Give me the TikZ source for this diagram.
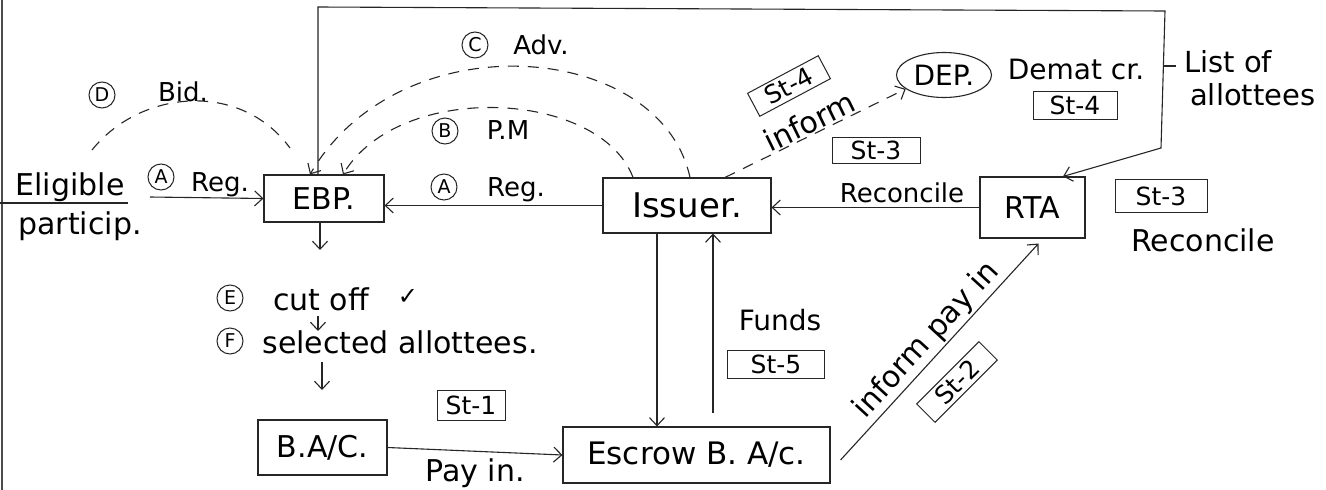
\documentclass[tikz,border=0pt]{standalone}
\usepackage{fontspec}
\setmainfont{DejaVu Sans}
\usetikzlibrary{arrows.meta,shapes.geometric,calc}
\newcommand{\fsz}[1]{\fontsize{#1}{#1}\selectfont}
\tikzset{
  ink/.style={draw=black!85, line width=1.1pt},
  arr/.style={ink, -{Straight Barb[length=8pt,width=15pt,line width=1.1pt]}},
  dsh/.style={ink, dash pattern=on 11pt off 9pt},
  darr/.style={dsh, -{Straight Barb[length=8pt,width=15pt,line width=1.1pt]}},
  box/.style={ink, rectangle, inner sep=0pt, font=\fsz{30}},
  stbox/.style={ink, line width=1pt, rectangle, font=\fsz{25}, inner xsep=4pt, inner ysep=0pt, minimum width=84, minimum height=28},
  circ/.style={circle, ink, line width=1pt, inner sep=0pt, minimum size=26pt, font=\fsz{19}},
  lbl/.style={font=\fsz{30}, inner sep=0pt},
  slbl/.style={font=\fsz{26}, inner sep=0pt},
}
\begin{document}
\begin{tikzpicture}[x=1pt,y=-1pt]
\useasboundingbox[fill=white] (0,0) rectangle (1326,490);
\draw[black!70, line width=1.5pt] (2,0) -- (2,490);

% boxes
\node[box, minimum width=120, minimum height=47] (ebp) at (324,198.5) {EBP.};
\node[box, minimum width=168, minimum height=55, font=\fsz{34}] (iss) at (687,205.5) {Issuer.};
\node[box, minimum width=105, minimum height=61] (rta) at (1032.5,207.5) {RTA};
\node[box, minimum width=129, minimum height=55] (bac) at (322.5,447.5) {B.A/C.};
\node[box, minimum width=267, minimum height=56, font=\fsz{31}] (esc) at (696.5,455) {Escrow B. A/c.};
\node[ellipse, ink, minimum width=95, minimum height=45, inner sep=0pt, font=\fsz{28}] (dep) at (944,75) {DEP.};

% labels
\node[lbl] (elig) at (70,187) {Eligible};
\node[lbl] (part) at (80,226) {particip.};
\draw[ink] (0,203) -- (128,203);
\node[circ] (ca1) at (161,177) {A};
\node[slbl] (reg1) at (220,185) {Reg.};
\node[circ] (cd) at (102,95) {D};
\node[slbl] (bid) at (183,92) {Bid.};
\node[circ] (cc) at (475,45) {C};
\node[slbl] (adv) at (541,45) {Adv.};
\node[circ] (cb) at (445,131) {B};
\node[slbl] (pm) at (508,130) {P.M};
\node[circ] (ca2) at (444,187) {A};
\node[slbl] (reg2) at (516,190) {Reg.};
\node[font=\fsz{28}, inner sep=0pt] (demat) at (1076,69) {Demat cr.};
\node[stbox] (st4b) at (1075,105) {St-4};
\node[font=\fsz{29}, inner sep=0pt, anchor=west] (list1) at (1184,62) {List of};
\node[font=\fsz{29}, inner sep=0pt, anchor=west] (list2) at (1190,95) {allottees};
\node[stbox, minimum width=88, minimum height=26] (st3a) at (876,150) {St-3};
\node[slbl] (rec1) at (902,193) {Reconcile};
\node[stbox, minimum width=92, minimum height=33] (st3b) at (1161,196) {St-3};
\node[lbl] (rec2) at (1203,240) {Reconcile};
\node[circ] (ce) at (230,298) {E};
\node[lbl] (cut) at (321,299) {cut off};
\node[font=\fsz{24}, inner sep=0pt] (chk) at (408,297) {✓};
\node[circ] (cf) at (230,341) {F};
\node[lbl] (sel) at (400,342) {selected allottees.};
\node[font=\fsz{28}, inner sep=0pt] (funds) at (780,320) {Funds};
\node[stbox, minimum width=97] (st5) at (776,364) {St-5};
\node[stbox, minimum width=68, minimum height=30] (st1) at (471,405) {St-1};
\node[lbl] (payin) at (475,473) {Pay in.};
\node[stbox, minimum width=80, minimum height=26, rotate=28] (st4a) at (789,86) {St-4};
\node[stbox, minimum width=88, minimum height=26, rotate=45] (st2) at (957,382) {St-2};

% solid connectors
\coordinate (regst) at (150,197);
\draw[arr] (regst) -- (ebp.west);
\draw[arr] (iss.west) -- (iss.west -| ebp.east);
\draw[arr] (rta.west) -- (rta.west -| iss.east);
\draw[arr] (ebp.south -| 320,0) -- (320,250);
\draw[arr] (318,316) -- (318,331);
\draw[arr] (322,362) -- (322,390);
\draw[arr] (iss.south -| 657,0) -- (esc.north -| 657,0);
\coordinate (fundst) at (713,413);
\draw[arr] (fundst) -- (iss.south -| fundst);
\draw[arr] (bac.east) -- (esc.west);
\draw[arr] ($(esc.east)+(10,5)$) -- node[lbl, sloped, above=2pt] {inform pay in} ($(rta.south)+(6,5)$);
\draw[arr] (ebp.north -| 318,0) -- (318,7) -- (1165,11) -- (1161,148) -- (rta.north -| 1063,0);
\draw[ink] (1163,66) -- (1176,66);

% dashed connectors
\coordinate (bidst) at (92,150);
\draw[dsh] (bidst) .. controls (140,90) and (240,80) .. (290,148);
\draw[darr] (iss.north -| 690,0) .. controls (660,40) and (400,20) .. (ebp.north -| 310,0);
\draw[darr] (iss.north -| 633,0) .. controls (600,90) and (400,80) .. (ebp.north -| 343,0);
\draw[darr] (iss.north -| 725,0) -- node[lbl, sloped, above=1pt] {inform} (dep.200);
\end{tikzpicture}
\end{document}
